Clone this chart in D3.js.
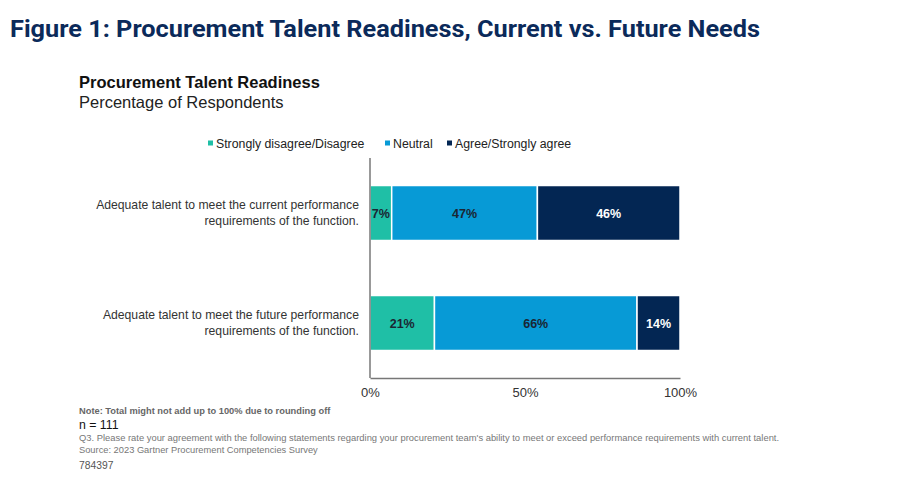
<!DOCTYPE html>
<html>
<head>
<meta charset="utf-8">
<script src="https://cdn.jsdelivr.net/npm/d3@7"></script>
<style>
  body { margin: 0; background: #fff; }
  svg { display: block; font-family: "Liberation Sans", Arial, sans-serif; }
</style>
</head>
<body>
<div id="chart"></div>
<script>
const categories = [
  "Adequate talent to meet the current performance requirements of the function.",
  "Adequate talent to meet the future performance requirements of the function."
];
const labelLines = [
  ["Adequate talent to meet the current performance", "requirements of the function."],
  ["Adequate talent to meet the future performance", "requirements of the function."]
];
const seriesNames = ["Strongly disagree/Disagree", "Neutral", "Agree/Strongly agree"];
const disagree = [7, 21];
const neutral = [47, 66];
const agree = [46, 14];
const tickLabels = ["0%", "50%", "100%"];
const colors = ["#1fbfa6", "#079ad6", "#032653"];

const width = 907;
const height = 483;
const margin = { top: 158, right: 227, bottom: 105, left: 370 };

const svg = d3.select("#chart")
  .append("svg")
  .attr("width", width)
  .attr("height", height);

// Figure title
svg.append("text")
  .attr("x", 10)
  .attr("y", 37)
  .style("font-family", "Roboto, sans-serif")
  .style("font-size", "24px")
  .style("font-weight", "bold")
  .style("fill", "#0b2a5a")
  .attr("textLength", 750)
  .attr("lengthAdjust", "spacingAndGlyphs")
  .text("Figure 1: Procurement Talent Readiness, Current vs. Future Needs");

// Chart title
svg.append("text")
  .attr("x", 79)
  .attr("y", 88)
  .style("font-size", "16.5px")
  .style("font-weight", "bold")
  .style("fill", "#111")
  .text("Procurement Talent Readiness");

svg.append("text")
  .attr("x", 79)
  .attr("y", 108)
  .style("font-size", "16.5px")
  .style("fill", "#222")
  .text("Percentage of Respondents");

// stacked data, normalized per row
const rows = categories.map((c, i) => ({
  category: c,
  [seriesNames[0]]: disagree[i],
  [seriesNames[1]]: neutral[i],
  [seriesNames[2]]: agree[i]
}));

const stack = d3.stack()
  .keys(seriesNames)
  .offset(d3.stackOffsetExpand);
const series = stack(rows);

const x = d3.scaleLinear()
  .domain([0, 1])
  .range([margin.left, width - margin.right]);

const y = d3.scaleBand()
  .domain(categories)
  .range([margin.top, height - margin.bottom])
  .paddingInner(0.5)
  .paddingOuter(0.25);

const color = d3.scaleOrdinal().domain(seriesNames).range(colors);

// Legend
const legendX = [208, 385, 447];
const legend = svg.append("g");
seriesNames.forEach((name, i) => {
  legend.append("rect")
    .attr("x", legendX[i])
    .attr("y", 140.5)
    .attr("width", 5)
    .attr("height", 5)
    .attr("fill", colors[i]);
  legend.append("text")
    .attr("x", legendX[i] + 8)
    .attr("y", 148)
    .style("font-size", "12.3px")
    .style("fill", "#222")
    .text(name);
});

// Bars
const groups = svg.append("g")
  .selectAll("g")
  .data(series)
  .join("g")
  .attr("fill", d => color(d.key));

groups.selectAll("rect")
  .data(d => d.map(v => Object.assign(v, { key: d.key })))
  .join("rect")
  .attr("x", d => x(d[0]))
  .attr("y", d => y(d.data.category))
  .attr("width", d => x(d[1]) - x(d[0]))
  .attr("height", y.bandwidth())
  .attr("stroke", "#fff")
  .attr("stroke-width", 1.5);

// Value labels
groups.selectAll("text")
  .data(d => d)
  .join("text")
  .attr("x", d => (x(d[0]) + x(d[1])) / 2)
  .attr("y", d => y(d.data.category) + y.bandwidth() / 2 + 4.5)
  .attr("text-anchor", "middle")
  .style("font-size", "12.5px")
  .style("font-weight", "bold")
  .style("fill", d => d.key === seriesNames[2] ? "#fff" : "#1b2633")
  .text(d => d.data[d.key] + "%");

// Category labels
const catLabels = svg.append("g");
categories.forEach((c, i) => {
  const t = catLabels.append("text")
    .attr("x", 359)
    .attr("y", y(c) + y.bandwidth() / 2 - 4)
    .attr("text-anchor", "end")
    .style("font-size", "12.2px")
    .style("fill", "#333");
  labelLines[i].forEach((line, j) => {
    t.append("tspan")
      .attr("x", 359)
      .attr("dy", j === 0 ? 0 : 16)
      .text(line);
  });
});

// Axes
svg.append("line")
  .attr("x1", margin.left).attr("x2", margin.left)
  .attr("y1", margin.top).attr("y2", height - margin.bottom)
  .attr("stroke", "#777").attr("stroke-width", 1.5);

const xAxis = svg.append("g")
  .attr("transform", `translate(0,${height - margin.bottom})`)
  .call(d3.axisBottom(x)
    .tickValues([0, 0.5, 1])
    .tickFormat((d, i) => tickLabels[i])
    .tickSize(0)
    .tickPadding(10));
xAxis.select(".domain").attr("stroke", "#777").attr("stroke-width", 1.5);
xAxis.selectAll("text")
  .style("font-family", "'Liberation Sans', Arial, sans-serif")
  .style("font-size", "13px")
  .style("fill", "#333");

// Footer notes
svg.append("text")
  .attr("x", 79).attr("y", 414)
  .style("font-size", "9.3px")
  .style("font-weight", "bold")
  .style("fill", "#666")
  .text("Note: Total might not add up to 100% due to rounding off");

svg.append("text")
  .attr("x", 79).attr("y", 429)
  .style("font-size", "12.3px")
  .style("fill", "#111")
  .text("n = 111");

svg.append("text")
  .attr("x", 79).attr("y", 441)
  .style("font-size", "9.4px")
  .style("fill", "#777")
  .text("Q3. Please rate your agreement with the following statements regarding your procurement team's ability to meet or exceed performance requirements with current talent.");

svg.append("text")
  .attr("x", 79).attr("y", 453)
  .style("font-size", "9.3px")
  .style("fill", "#777")
  .text("Source: 2023 Gartner Procurement Competencies Survey");

svg.append("text")
  .attr("x", 79).attr("y", 469)
  .style("font-size", "10.3px")
  .style("fill", "#555")
  .text("784397");
</script>
</body>
</html>
